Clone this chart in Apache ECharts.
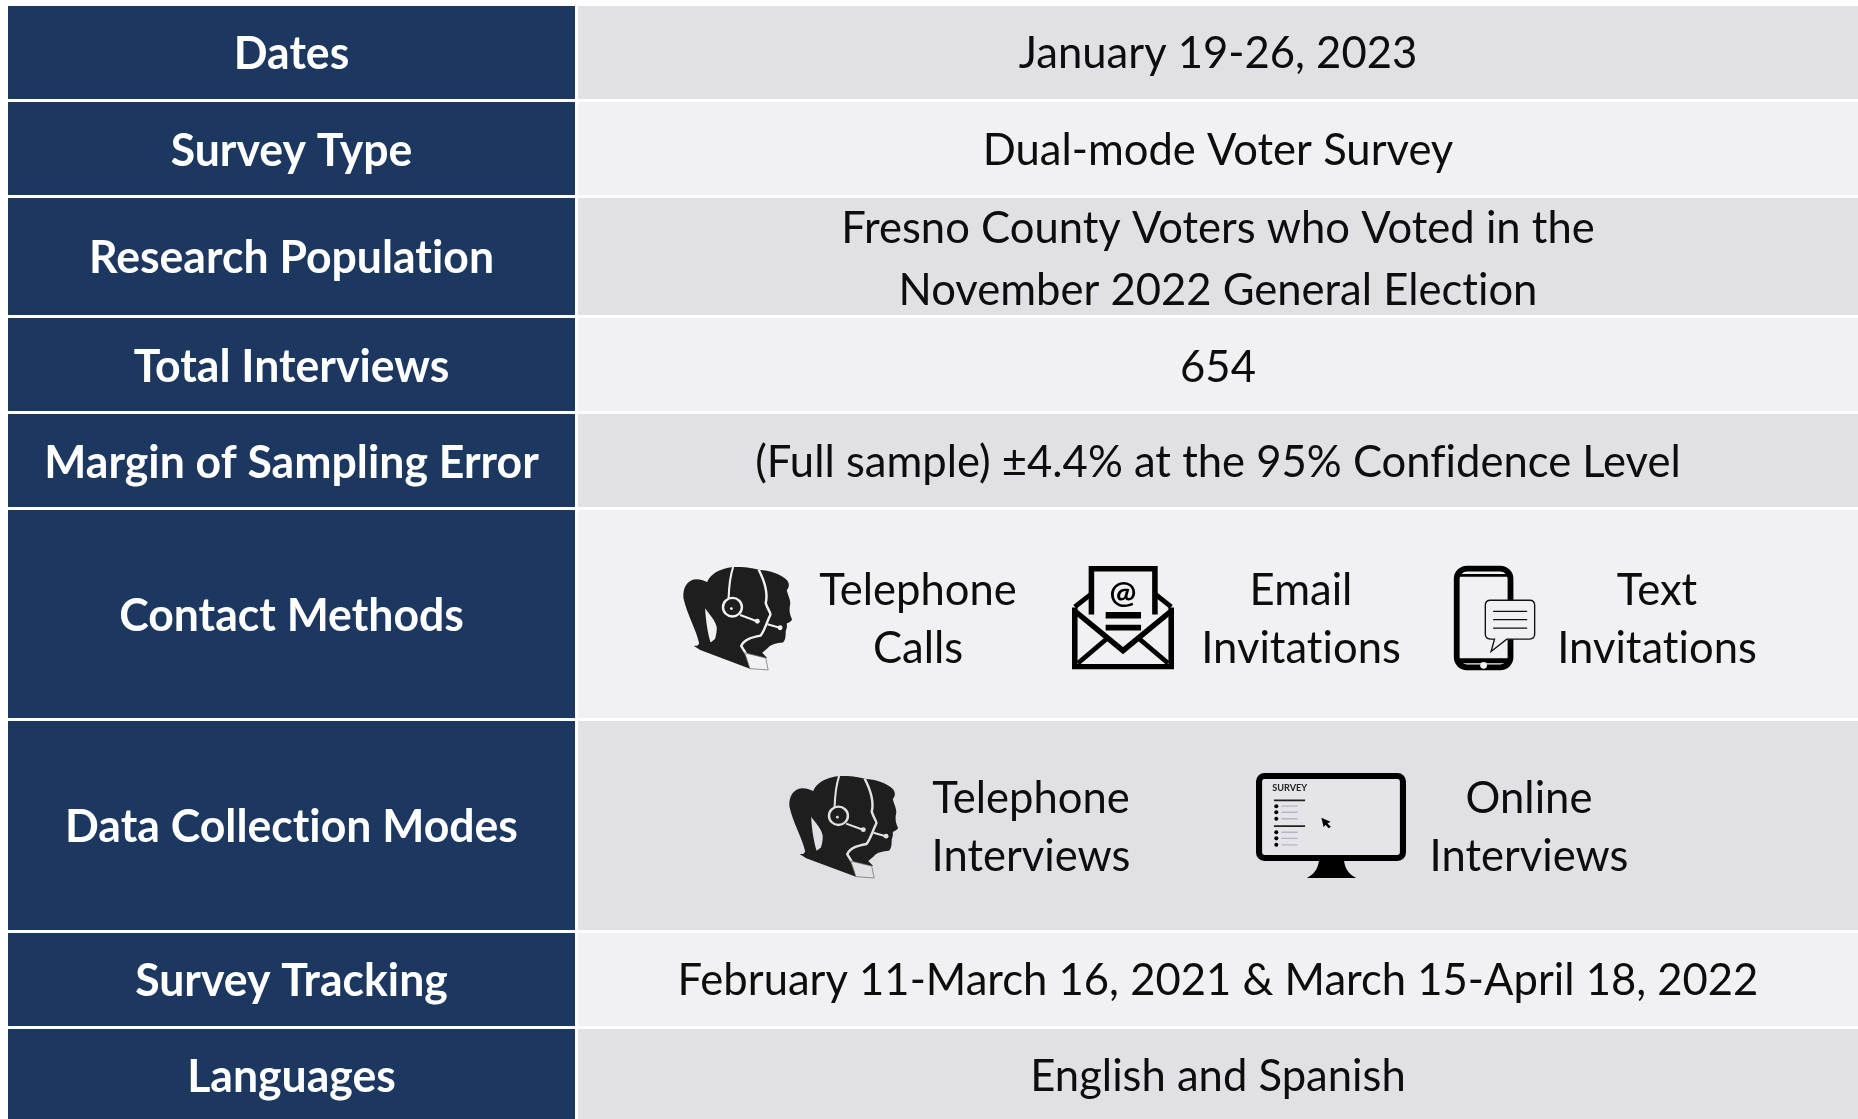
<!DOCTYPE html>
<html>
<head>
<meta charset="utf-8">
<title>Survey methodology</title>
<script src="https://cdn.jsdelivr.net/npm/echarts@6/dist/echarts.min.js"></script>
<style>
  html, body { margin: 0; padding: 0; background: #fff; }
  #main { width: 1858px; height: 1119px; }
</style>
</head>
<body>
<div id="main"></div>
<script>
  // table content
  const rowLabels = ['Dates', 'Survey Type', 'Research Population', 'Total Interviews', 'Margin of Sampling Error',
    'Contact Methods', 'Data Collection Modes', 'Survey Tracking', 'Languages'];
  const rowValues = ['January 19-26, 2023', 'Dual-mode Voter Survey',
    'Fresno County Voters who Voted in the\nNovember 2022 General Election', '654',
    '(Full sample) ±4.4% at the 95% Confidence Level', '', '',
    'February 11-March 16, 2021 & March 15-April 18, 2022', 'English and Spanish'];
  const contactLabels = ['Telephone\nCalls', 'Email\nInvitations', 'Text\nInvitations'];
  const modeLabels = ['Telephone\nInterviews', 'Online\nInterviews'];

  // layout, in page pixels
  const rowTops = [6, 102, 198, 318, 414, 510, 721, 933, 1029];
  const rowBottoms = [99, 195, 315, 411, 507, 718, 930, 1026, 1119];
  const labelCenters = [54, 151, 258, 367, 463, 616, 827, 981, 1077];
  const valueCenters = [54, 151, 260, 368, 463, 0, 0, 981, 1077];
  const methodTexts = [
    { text: contactLabels[0], x: 918, y: 620, row: 5 },
    { text: contactLabels[1], x: 1301, y: 620, row: 5 },
    { text: contactLabels[2], x: 1657, y: 620, row: 5 },
    { text: modeLabels[0], x: 1031, y: 828, row: 6 },
    { text: modeLabels[1], x: 1529, y: 828, row: 6 }
  ];
  const iconBoxes = [
    { icon: 'headset', x: 682, y: 567, w: 110, h: 103, row: 5 },
    { icon: 'envelope', x: 1072, y: 566, w: 102, h: 103, row: 5 },
    { icon: 'phone', x: 1454, y: 566, w: 81, h: 104, row: 5 },
    { icon: 'headset', x: 788, y: 776, w: 110, h: 102, row: 6 },
    { icon: 'monitor', x: 1256, y: 773, w: 150, h: 105, row: 6 }
  ];

  const NAVY = '#1c3760';
  const rowFill = ['#e0e0e5', '#f1f1f3'];
  const INK = '#0d0d0d';
  const LEFT_FONT = 'bold 45px Lato';
  const RIGHT_FONT = '44px Lato';

  // the reference has no "ti"/"fi" ligatures, a tiny letter spacing switches them off
  const fillTextOrig = CanvasRenderingContext2D.prototype.fillText;
  CanvasRenderingContext2D.prototype.fillText = function (s, x, y, w) {
    this.letterSpacing = '0.01px';
    return w === undefined ? fillTextOrig.call(this, s, x, y) : fillTextOrig.call(this, s, x, y, w);
  };

  function cellText(api, text, x, y, font, fill, scaleX, lineHeight) {
    const p = api.coord([x, y]);
    return {
      type: 'text', x: p[0], y: p[1], scaleX: scaleX,
      style: { text: text, font: font, fill: fill, align: 'center', verticalAlign: 'middle', lineHeight: lineHeight }
    };
  }

  function renderRow(params, api) {
    const i = params.dataIndex;
    const tl = api.coord([8, rowTops[i]]);
    const br = api.coord([575, rowBottoms[i]]);
    const tl2 = api.coord([578, rowTops[i]]);
    const br2 = api.coord([1858, rowBottoms[i]]);
    const children = [
      { type: 'rect', shape: { x: tl[0], y: tl[1], width: br[0] - tl[0], height: br[1] - tl[1] }, style: { fill: NAVY } },
      { type: 'rect', shape: { x: tl2[0], y: tl2[1], width: br2[0] - tl2[0], height: br2[1] - tl2[1] }, style: { fill: rowFill[i % 2] } },
      cellText(api, rowLabels[i], 291.5, labelCenters[i], LEFT_FONT, '#ffffff', 0.99, 48)
    ];
    if (rowValues[i]) {
      children.push(cellText(api, rowValues[i], 1218, valueCenters[i], RIGHT_FONT, INK, 0.99, 62));
    }
    return { type: 'group', children: children };
  }

  function renderMethodText(params, api) {
    const t = methodTexts[params.dataIndex];
    return cellText(api, t.text, t.x, t.y, RIGHT_FONT, INK, 0.99, 58);
  }

  function line(d, w, color) {
    return { type: 'path', shape: { pathData: d }, style: { fill: 'none', stroke: color || '#000', lineWidth: w } };
  }
  function solid(d, color) {
    return { type: 'path', shape: { pathData: d }, style: { fill: color } };
  }
  function ring(cx, cy, r, fill, stroke, w) {
    return { type: 'circle', shape: { cx: cx, cy: cy, r: r }, style: { fill: fill, stroke: stroke, lineWidth: w || 0 } };
  }

  // icons are drawn in their own local units and scaled into the box
  const iconArt = {
    headset: {
      w: 314, h: 300,
      draw(bg) {
        const dark = '#1e1e1e';
        return [
          solid('M4 90 C2 60 15 38 40 36 C55 36 65 42 72 44 C80 22 105 5 146 0 L170 0 C195 2 210 6 219 8 C250 10 285 22 299 38 C308 48 306 60 299 68 C303 85 310 95 309 108 C306 122 306 135 314 152 C312 160 302 162 299 165 C301 175 298 180 296 187 C296 200 296 212 288 220 C270 222 255 224 245 236 L229 250 L243 265 L190 264 L194 296 L52 242 L34 230 C40 228 45 232 49 222 C40 180 15 140 4 90 Z', dark),
          solid('M66 120 C80 140 95 155 99 175 C100 190 96 205 94 210 L82 220 C75 200 68 160 66 120 Z', bg),
          line('M146 0 C136 30 134 60 133 92', 6, bg),
          line('M219 8 C240 50 245 80 239 105 C245 125 255 135 252 140 C240 165 236 185 224 200 C200 205 178 210 169 230 L190 265', 7, bg),
          ring(144, 117, 27, 'none', bg, 7),
          ring(141, 121, 4, bg, bg, 0),
          line('M166 140 L214 158', 6, bg),
          ring(215, 158, 7, bg, bg, 0),
          line('M244 167 L279 177', 6, bg),
          ring(280, 177, 7, bg, bg, 0),
          { type: 'path', shape: { pathData: 'M179 250 L239 265 L246 300 L194 296 Z' }, style: { fill: bg, stroke: '#666', lineWidth: 2 } }
        ];
      }
    },
    envelope: {
      w: 294, h: 302,
      draw(bg) {
        return [
          line('M56 142 L56 8 L239 8 L239 142', 16),
          line('M8 120 L56 82 M286 120 L239 82', 14),
          line('M8 122 L8 295 L286 295 L286 122', 16),
          line('M8 132 L147 248 L286 132', 16),
          line('M17 285 L102 212 M277 285 L192 212', 14),
          solid('M97 135 L199 135 L199 154 L97 154 Z M97 172 L199 172 L199 189 L97 189 Z', '#000'),
          { type: 'text', x: 147, y: 78, style: { text: '@', font: 'bold 92px Lato', fill: '#000', align: 'center', verticalAlign: 'middle' } }
        ];
      }
    },
    phone: {
      w: 238, h: 310,
      draw(bg) {
        return [
          { type: 'rect', shape: { x: 8, y: 8, width: 158, height: 294, r: 30 }, style: { fill: 'none', stroke: '#000', lineWidth: 17 } },
          solid('M8 24 L166 24 L166 32 L8 32 Z M8 275 L166 275 L166 290 L8 290 Z', '#000'),
          line('M47 21 L127 21', 5, bg),
          ring(87, 296, 10, bg, bg, 0),
          { type: 'path', shape: { pathData: 'M107 102 L222 102 Q237 102 237 117 L237 203 Q237 218 222 218 L155 218 L109 255 L119 218 L107 218 Q92 218 92 203 L92 117 Q92 102 107 102 Z' }, style: { fill: bg, stroke: '#111', lineWidth: 4 } },
          line('M115 135 L215 135 M115 160 L215 160 M115 185 L215 185', 3.5, '#111')
        ];
      }
    },
    monitor: {
      w: 443, h: 310,
      draw(bg) {
        const gray = '#b5b5c5';
        return [
          { type: 'rect', shape: { x: 9, y: 9, width: 425, height: 242, r: 16 }, style: { fill: '#e4e4e9', stroke: '#000', lineWidth: 18 } },
          solid('M186 260 L260 260 C264 285 275 300 296 310 L150 310 C171 300 182 285 186 260 Z', '#000'),
          { type: 'text', x: 48, y: 44, style: { text: 'SURVEY', font: 'bold 27px Lato', fill: '#222', align: 'left', verticalAlign: 'middle' } },
          line('M53 81 L145 81 M53 157 L145 157', 5, '#222'),
          line('M75 98 L123 98 M75 116 L123 116 M75 135 L123 135 M75 175 L123 175 M75 193 L123 193 M75 212 L123 212', 4, gray),
          ring(60, 98, 6, '#000', '#000', 0), ring(60, 116, 6, '#000', '#000', 0), ring(60, 135, 6, '#000', '#000', 0),
          ring(60, 175, 6, '#000', '#000', 0), ring(60, 193, 6, '#000', '#000', 0), ring(60, 212, 6, '#000', '#000', 0),
          solid('M193 132 L220 144 L211 149 L221 159 L215 163 L205 153 L200 160 Z', '#000')
        ];
      }
    }
  };

  function renderIcon(params, api) {
    const b = iconBoxes[params.dataIndex];
    const art = iconArt[b.icon];
    const p = api.coord([b.x, b.y]);
    return {
      type: 'group', x: p[0], y: p[1],
      scaleX: b.w / art.w, scaleY: b.h / art.h,
      children: art.draw(rowFill[b.row % 2])
    };
  }

  const myChart = echarts.init(document.getElementById('main'), null, { renderer: 'canvas' });
  myChart.setOption({
    animation: false,
    backgroundColor: '#ffffff',
    grid: { left: 0, right: 0, top: 0, bottom: 0 },
    xAxis: { type: 'value', min: 0, max: 1858, show: false },
    yAxis: { type: 'value', min: 0, max: 1119, inverse: true, show: false },
    series: [
      { type: 'custom', name: 'rows', silent: true, renderItem: renderRow, data: rowLabels.map((l, i) => [i]) },
      { type: 'custom', name: 'methods', silent: true, renderItem: renderMethodText, data: methodTexts.map((t, i) => [i]) },
      { type: 'custom', name: 'icons', silent: true, renderItem: renderIcon, data: iconBoxes.map((b, i) => [i]) }
    ]
  });
</script>
</body>
</html>
